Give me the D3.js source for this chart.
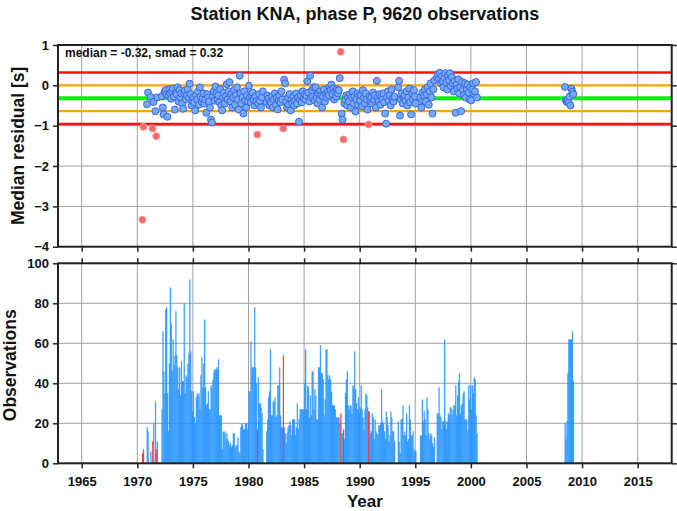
<!DOCTYPE html>
<html><head><meta charset="utf-8">
<script src="https://cdn.jsdelivr.net/npm/d3@7"></script>
<style>body{margin:0;background:#fff}svg text{font-family:"Liberation Sans",Arial,Helvetica,sans-serif;font-weight:bold;fill:#111}</style>
</head><body>
<svg id="c" width="677" height="511"></svg>
<script>
const titleText = "Station KNA, phase P, 9620 observations";
const statsText = "median = -0.32, smad = 0.32";
const medianVal = -0.32;
const smadVal = 0.32;
const xTicks = [1965,1970,1975,1980,1985,1990,1995,2000,2005,2010,2015];
const resTicks = [1,0,-1,-2,-3,-4];
const obsTicks = [0,20,40,60,80,100];
const dataYears = [1970,1971,1972,1973,1974,1975,1976,1977,1978,1979,1980,1981,1982,1983,1984,1985,1986,1987,1988,1989,1990,1991,1992,1993,1994,1995,1996,1997,1998,1999,2000,2008,2009];
const n = null;
const monthlyCounts = [
 [0,0,0,0,0,5,7,0,0,0,18,16],
 [0,0,6,0,11,20,0,31,7,11,0,0],
 [0,0,27,66,46,35,77,78,35,16,50,88],
 [70,46,62,49,54,76,54,48,37,48,34,51],
 [41,41,80,35,44,43,50,55,92,56,36,26],
 [36,23,20,33,35,34,35,27,44,53,38,50],
 [72,38,29,30,36,27,27,39,38,42,46,47],
 [47,48,47,52,24,24,24,7,16,15,16,12],
 [15,12,11,9,10,8,9,15,15,8,9,9],
 [13,6,5,18,20,19,17,17,20,20,17,20],
 [36,36,61,48,48,48,78,48,40,17,43,30],
 [30,28,25,7,0,0,0,16,22,33,36,57],
 [24,24,31,31,33,23,24,39,39,48,24,18],
 [18,54,18,15,10,15,18,19,21,19,14,22],
 [22,22,14,18,30,17,22,27,27,27,27,27],
 [40,57,27,39,38,23,34,24,46,46,27,37],
 [34,22,22,48,48,59,45,45,42,24,32,57],
 [57,44,42,44,42,36,29,29,29,27,23,23],
 [23,23,20,25,15,15,17,12,35,42,46,29],
 [27,29,29,25,39,38,56,37,30,27,33,25],
 [28,39,27,23,17,27,35,34,28,26,26,15],
 [16,25,23,12,22,16,15,14,19,19,20,37],
 [21,20,16,12,26,23,19,11,14,26,23,16],
 [16,11,0,0,0,21,11,5,22,22,29,14],
 [16,14,25,11,12,29,22,14,14,16,7,6],
 [6,0,0,0,0,14,14,32,21,26,22,14],
 [33,27,15,12,15,14,10,8,13,0,0,25],
 [25,38,24,23,17,21,21,62,21,17,21,25],
 [24,28,28,24,27,29,29,39,24,34,41,45],
 [25,29,30,35,36,22,22,22,16,39,32,39],
 [27,39,35,43,42,24,15,0,0,0,0,0],
 [0,0,0,0,0,20,12,21,45,62,62,62],
 [62,66,41,0,0,0,0,0,0,0,0,0]
];
const monthlyResiduals = [
 [n,n,n,n,n,-3.33,-1.03,n,n,n,-0.47,-0.18],
 [n,n,-0.29,n,-1.07,-0.41,n,-0.64,-1.26,-0.30,n,n],
 [n,n,-0.27,-0.55,-0.72,-0.17,-0.12,-0.22,-0.78,-0.25,-0.10,-0.20],
 [-0.33,-0.15,-0.08,-0.28,-0.60,-0.18,-0.22,-0.05,-0.40,-0.12,-0.30,-0.20],
 [-0.45,-0.58,-0.20,-0.13,-0.35,-0.25,-0.10,-0.30,0.04,-0.22,-0.50,-0.38],
 [-0.30,-0.42,-0.62,-0.25,-0.35,-0.15,-0.48,-0.05,-0.28,-0.40,-0.33,-0.20],
 [-0.45,-0.35,-0.68,-0.22,-0.30,-0.40,-0.55,-0.85,-0.92,-0.28,-0.15,-0.38],
 [-0.03,-0.20,-0.35,-0.25,-0.42,-0.10,-0.50,-0.62,-0.30,-0.18,-0.45,-0.28],
 [0.03,-0.35,-0.15,0.08,-0.40,-0.22,-0.55,-0.30,-0.12,-0.48,-0.25,-0.05],
 [-0.35,-0.60,0.24,-0.20,-0.45,-0.30,-0.70,-0.15,-0.38,-0.55,-0.25,-0.40],
 [-0.01,-0.30,-0.42,-0.25,-0.18,-0.35,-0.50,-0.28,-0.40,-1.22,-0.45,-0.22],
 [-0.38,-0.55,-0.30,-0.15,n,n,n,-0.42,-0.25,-0.33,-0.50,-0.40],
 [-0.45,-0.28,-0.55,-0.35,-0.20,-0.48,-0.30,-0.60,-0.38,-0.25,-0.42,-0.15],
 [-0.35,-1.07,0.14,0.05,-0.40,-0.55,-0.30,-0.48,-0.22,-0.62,-0.35,-0.45],
 [-0.28,-0.50,-0.38,-0.20,-0.45,-0.30,-0.90,-0.35,-0.25,-0.42,-0.15,-0.32],
 [-0.22,-0.35,-0.25,0.10,-0.18,-0.40,0.24,-0.30,-0.12,-0.28,-0.05,-0.38],
 [-0.05,-0.30,-0.45,-0.20,-0.35,-0.15,-0.25,-0.55,-0.28,-0.10,-0.40,-0.22],
 [-0.30,-0.18,-0.25,-0.05,-0.12,0.02,-0.22,-0.08,-0.35,-0.15,-0.28,-0.10],
 [-0.20,-0.12,0.18,0.83,-0.70,-0.85,-1.34,-0.45,-0.35,-0.25,-0.50,-0.30],
 [-0.40,-0.22,-0.55,-0.30,-0.15,-0.45,-0.28,-0.65,-0.35,-0.20,-0.48,-0.25],
 [-0.38,-0.25,-0.52,-0.12,-0.30,-0.45,-0.20,-0.35,-0.60,-0.97,-0.28,-0.40],
 [-0.30,-0.45,-0.18,-0.35,-0.25,-0.55,0.11,-0.32,-0.40,-0.22,-0.48,-0.28],
 [-0.35,-0.20,-0.42,-0.70,-0.95,-0.30,-0.15,-0.38,-0.25,-0.50,-0.10,-0.33],
 [-0.40,-0.28,n,n,n,-0.05,0.11,-0.75,-0.35,-0.20,-0.45,-0.30],
 [-0.25,-0.38,-0.15,-0.50,-0.30,-0.08,-0.42,-0.72,-0.20,-0.35,-0.12,-0.28],
 [-0.45,n,n,n,n,-0.30,-0.55,-0.18,-0.38,-0.25,-0.10,-0.40],
 [-0.22,-0.05,-0.48,-0.15,0.05,-0.30,-0.70,-0.10,0.12,n,n,0.20],
 [0.28,0.15,0.31,0.05,0.22,0.10,-0.05,0.18,0.30,0.08,-0.10,0.25],
 [0.12,0.30,-0.02,0.20,0.05,-0.15,0.10,-0.68,0.02,-0.08,0.15,-0.20],
 [-0.05,-0.64,0.08,-0.12,-0.25,0.05,-0.30,-0.10,0.02,-0.18,-0.35,-0.05],
 [-0.37,-0.10,0.05,-0.22,-0.15,0.08,-0.30,n,n,n,n,n],
 [n,n,n,n,n,-0.04,-0.37,-0.41,-0.37,-0.43,-0.28,-0.50],
 [-0.08,-0.16,-0.22,n,n,n,n,n,n,n,n,n]
];

const svg = d3.select("#c");
const L = 58, R = 671.7;
const top1 = 45, bot1 = 246.7, top2 = 263.3, bot2 = 463.3;
const x = d3.scaleLinear().domain([1962.87, 2018.06]).range([L, R]);
const y1 = d3.scaleLinear().domain([-4, 1]).range([bot1, top1]);
const y2 = d3.scaleLinear().domain([0, 100]).range([bot2, top2]);

const recs = [];
dataYears.forEach((yr, i) => {
  for (let m = 0; m < 12; m++) {
    const c = monthlyCounts[i][m], r = monthlyResiduals[i][m];
    if (c > 0 || r !== null) {
      const out = r !== null && Math.abs(r - medianVal) > 2 * smadVal + 1e-9;
      recs.push({t0: yr + m / 12, t1: yr + (m + 1) / 12, tc: yr + (m + 0.5) / 12, c, r, out});
    }
  }
});

const gridCol = "#a0a0a0";
// ---- panel 1 grid
const g1 = svg.append("g");
g1.selectAll("line.vx").data(xTicks).join("line")
  .attr("x1", d => x(d)).attr("x2", d => x(d)).attr("y1", top1).attr("y2", bot1)
  .attr("stroke", gridCol).attr("stroke-width", 1);
g1.selectAll("line.hy").data(resTicks.slice(1, -1)).join("line")
  .attr("x1", L).attr("x2", R).attr("y1", d => y1(d)).attr("y2", d => y1(d))
  .attr("stroke", gridCol).attr("stroke-width", 1);

// reference lines
const refLines = [
  {v: medianVal + 2 * smadVal, col: "#ff1010", w: 2.6},
  {v: medianVal - 2 * smadVal, col: "#ff1010", w: 2.6},
  {v: medianVal + smadVal, col: "#ffa500", w: 2.4},
  {v: medianVal - smadVal, col: "#ffa500", w: 2.4},
  {v: medianVal, col: "#11ee11", w: 4}
];
g1.selectAll("line.ref").data(refLines).join("line")
  .attr("x1", L).attr("x2", R).attr("y1", d => y1(d.v)).attr("y2", d => y1(d.v))
  .attr("stroke", d => d.col).attr("stroke-width", d => d.w);

// points
const pts = recs.filter(d => d.r !== null);
g1.selectAll("circle").data(pts).join("circle")
  .attr("cx", d => x(d.tc)).attr("cy", d => y1(d.r)).attr("r", 3.5)
  .attr("fill", d => d.out ? "#f56b6b" : "#74a9f3")
  .attr("stroke", d => d.out ? "#ff9a9a" : "#3a66e6")
  .attr("stroke-width", 1);

// ---- panel 2 grid
const g2 = svg.append("g");
g2.selectAll("line.vx").data(xTicks).join("line")
  .attr("x1", d => x(d)).attr("x2", d => x(d)).attr("y1", top2).attr("y2", bot2)
  .attr("stroke", gridCol).attr("stroke-width", 1);
g2.selectAll("line.hy").data(obsTicks.slice(1, -1)).join("line")
  .attr("x1", L).attr("x2", R).attr("y1", d => y2(d)).attr("y2", d => y2(d))
  .attr("stroke", gridCol).attr("stroke-width", 1);

// bars
const bars = recs.filter(d => d.c > 0);
g2.selectAll("rect").data(bars).join("rect")
  .attr("x", d => x(d.t0)).attr("width", d => x(d.t1) - x(d.t0) + 0.35)
  .attr("y", d => y2(d.c)).attr("height", d => y2(0) - y2(d.c))
  .attr("fill", d => d.out ? "#ff2020" : "#1e90ff")
  .attr("fill-opacity", 0.85);

// ---- frames and axes
function frame(t, b) {
  svg.append("rect").attr("x", L).attr("y", t).attr("width", R - L).attr("height", b - t)
    .attr("fill", "none").attr("stroke", "#222").attr("stroke-width", 2);
}
frame(top1, bot1);
frame(top2, bot2);

function styleAxis(g) {
  g.select(".domain").remove();
  g.selectAll(".tick line").attr("stroke", "#222").attr("stroke-width", 1.5);
  g.selectAll(".tick text").attr("font-size", 13).attr("fill", "#111")
   .style("font-family", '"Liberation Sans",Arial,sans-serif').style("font-weight", "bold");
}
// panel 1 axes
svg.append("g").attr("transform", `translate(${L},0)`)
  .call(d3.axisLeft(y1).tickValues(resTicks).tickSize(5).tickPadding(4).tickFormat(d3.format("d")))
  .call(styleAxis);
svg.append("g").attr("transform", `translate(${R},0)`)
  .call(d3.axisRight(y1).tickValues(resTicks).tickSize(5).tickFormat(""))
  .call(styleAxis);
svg.append("g").attr("transform", `translate(0,${bot1})`)
  .call(d3.axisBottom(x).tickValues(xTicks).tickSize(5).tickFormat(""))
  .call(styleAxis);
// panel 2 axes
svg.append("g").attr("transform", `translate(${L},0)`)
  .call(d3.axisLeft(y2).tickValues(obsTicks).tickSize(5).tickPadding(4).tickFormat(d3.format("d")))
  .call(styleAxis);
svg.append("g").attr("transform", `translate(${R},0)`)
  .call(d3.axisRight(y2).tickValues(obsTicks).tickSize(5).tickFormat(""))
  .call(styleAxis);
svg.append("g").attr("transform", `translate(0,${top2})`)
  .call(d3.axisTop(x).tickValues(xTicks).tickSize(5).tickFormat(""))
  .call(styleAxis);
svg.append("g").attr("transform", `translate(0,${bot2})`)
  .call(d3.axisBottom(x).tickValues(xTicks).tickSize(5).tickPadding(8).tickFormat(d3.format("d")))
  .call(styleAxis);

// texts
svg.append("text").attr("x", (L + R) / 2).attr("y", 20).attr("text-anchor", "middle")
  .attr("font-size", 18).text(titleText);
svg.append("text").attr("x", 65).attr("y", 56.5).attr("font-size", 12).text(statsText);
svg.append("text").attr("transform", `translate(24,${(top1 + bot1) / 2}) rotate(-90)`)
  .attr("text-anchor", "middle").attr("font-size", 17.5).text("Median residual [s]");
svg.append("text").attr("transform", `translate(16,${(top2 + bot2) / 2 + 2}) rotate(-90)`)
  .attr("text-anchor", "middle").attr("font-size", 17.5).text("Observations");
svg.append("text").attr("x", (L + R) / 2).attr("y", 507).attr("text-anchor", "middle")
  .attr("font-size", 17).text("Year");
</script>
</body></html>
